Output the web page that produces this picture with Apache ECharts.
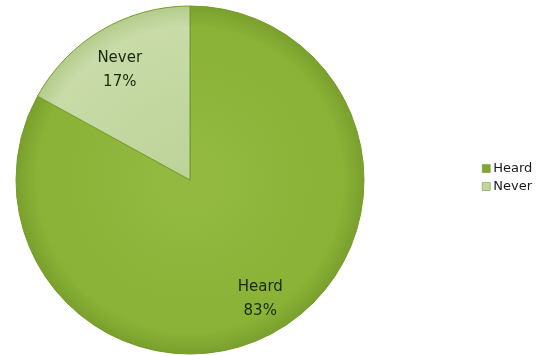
<!DOCTYPE html>
<html>
<head>
<meta charset="utf-8">
<script src="https://cdn.jsdelivr.net/npm/echarts@6/dist/echarts.min.js"></script>
<style>
  html, body { margin: 0; padding: 0; background: #fff; }
  #chart { width: 550px; height: 356px; }
</style>
</head>
<body>
<div id="chart"></div>
<script>
// Share of respondents who have heard of it vs. never
const categories = ['Heard', 'Never'];
const percents = [83, 17];

const CX = 190, CY = 180, R = 174;

// shading shared by the whole disc (global coordinates)
const fills = [
  new echarts.graphic.RadialGradient(CX, CY, R, [
    { offset: 0, color: '#94ba42' },
    { offset: 0.88, color: '#8ab236' },
    { offset: 1, color: '#7aa02d' }
  ], true),
  new echarts.graphic.RadialGradient(CX, CY, R, [
    { offset: 0, color: '#bcd398' },
    { offset: 0.88, color: '#c8dba8' },
    { offset: 1, color: '#b4cc8c' }
  ], true)
];
const legendColors = ['#7fa832', '#c0d79b'];
// vertical nudge per slice label
const labelNudge = [0, 9];

const chart = echarts.init(document.getElementById('chart'), null, { renderer: 'canvas' });
chart.setOption({
  animation: false,
  legend: {
    orient: 'vertical',
    left: 477,
    top: 157,
    itemWidth: 8,
    itemHeight: 8,
    itemGap: 5,
    icon: 'rect',
    textStyle: { fontFamily: 'DejaVu Sans', fontSize: 13, color: '#1a1a1a', padding: [0, 0, 0, -2] },
    data: categories.map((name, i) => ({
      name,
      itemStyle: { color: legendColors[i], borderColor: '#6b8f25', borderWidth: 0.5 }
    }))
  },
  series: [
    {
      type: 'pie',
      center: [CX, CY],
      radius: R,
      startAngle: 90,
      clockwise: true,
      silent: true,
      itemStyle: { borderColor: '#759a2b', borderWidth: 1 },
      label: { show: false },
      labelLine: { show: false },
      data: categories.map((name, i) => ({ name, value: percents[i], itemStyle: { color: fills[i] } }))
    },
    {
      // transparent ring used only to place the labels further out
      type: 'pie',
      center: [CX, CY],
      radius: [96, R],
      startAngle: 90,
      clockwise: true,
      silent: true,
      legendHoverLink: false,
      itemStyle: { color: 'rgba(0,0,0,0)', borderWidth: 0 },
      label: {
        show: true,
        position: 'inside',
        formatter: p => p.name + '\n' + p.value + '%',
        fontFamily: 'DejaVu Sans',
        fontSize: 15,
        lineHeight: 24,
        color: '#1a2a0e'
      },
      labelLine: { show: false },
      labelLayout: p => ({ dy: labelNudge[p.dataIndex] }),
      data: categories.map((name, i) => ({ name, value: percents[i] }))
    }
  ]
});
</script>
</body>
</html>
